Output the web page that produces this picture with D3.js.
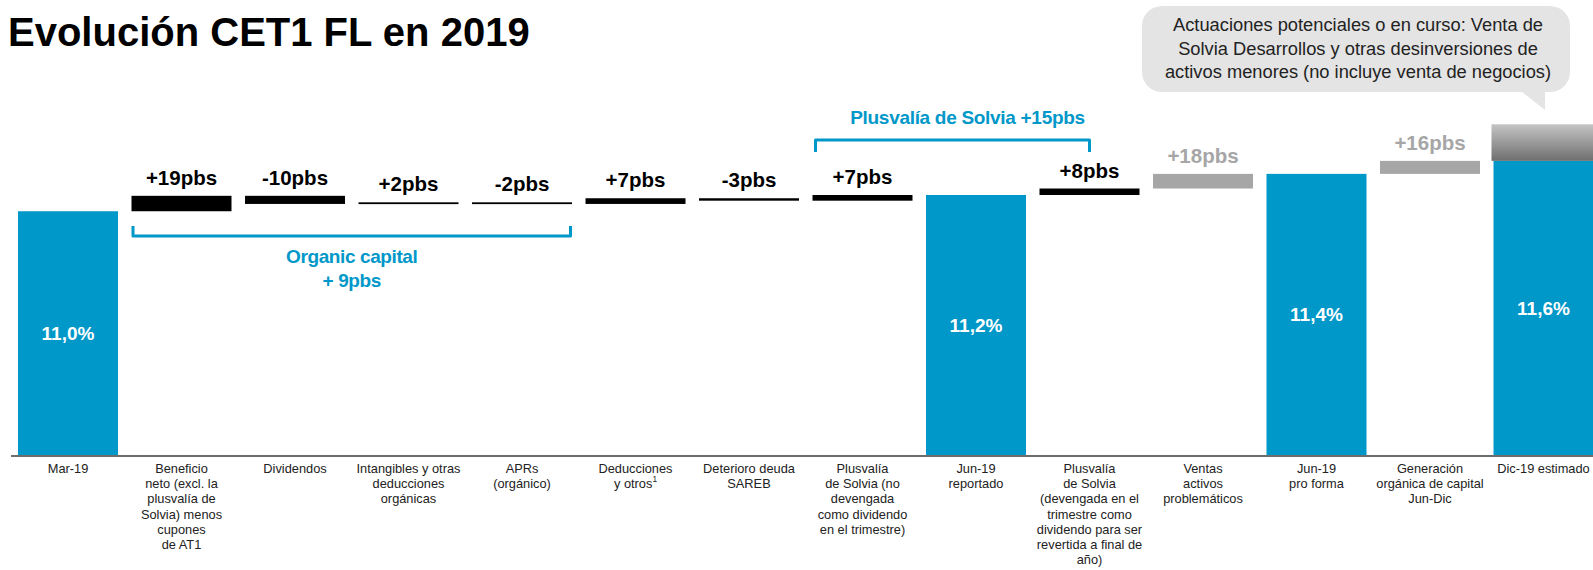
<!DOCTYPE html>
<html>
<head>
<meta charset="utf-8">
<script src="https://cdn.jsdelivr.net/npm/d3@7"></script>
<style>
  html, body { margin: 0; padding: 0; background: #fff; }
  svg { display: block; }
</style>
</head>
<body>
<svg id="chart" width="1593" height="570"></svg>
<script>
// ---------------- DATA ----------------
const titleText = "Evolución CET1 FL en 2019";

const categoryLines = [
  ["Mar-19"],
  ["Beneficio", "neto (excl. la", "plusvalía de", "Solvia) menos", "cupones", "de AT1"],
  ["Dividendos"],
  ["Intangibles y otras", "deducciones", "orgánicas"],
  ["APRs", "(orgánico)"],
  ["Deducciones", "y otros|1"],
  ["Deterioro deuda", "SAREB"],
  ["Plusvalía", "de Solvia (no", "devengada", "como dividendo", "en el trimestre)"],
  ["Jun-19", "reportado"],
  ["Plusvalía", "de Solvia", "(devengada en el", "trimestre como", "dividendo para ser", "revertida a final de", "año)"],
  ["Ventas", "activos", "problemáticos"],
  ["Jun-19", "pro forma"],
  ["Generación", "orgánica de capital", "Jun-Dic"],
  ["Dic-19 estimado"]
];

const barKind = ["total", "organic", "organic", "organic", "organic", "organic", "organic", "organic",
                 "total", "organic", "potential", "total", "potential", "total"];

const startValue = 11.0;                    // CET1 FL % at Mar-19
const deltaPbs = [null, 19, -10, 2, -2, 7, -3, 7, null, 8, 18, null, 16, null];
const deltaLabels = [null, "+19pbs", "-10pbs", "+2pbs", "-2pbs", "+7pbs", "-3pbs", "+7pbs",
                     null, "+8pbs", "+18pbs", null, "+16pbs", null];
const totalLabels = ["11,0%", null, null, null, null, null, null, null,
                     "11,2%", null, null, "11,4%", null, "11,6%"];
const pendingPbs = [null, null, null, null, null, null, null, null, null, null, null, null, null, 45];

const organicBracket = { from: 1, to: 4, lines: ["Organic capital", "+ 9pbs"] };
const solviaBracket = { from: 7, to: 9, text: "Plusvalía de Solvia +15pbs" };

const calloutLines = [
  "Actuaciones potenciales o en curso: Venta de",
  "Solvia Desarrollos y otras desinversiones de",
  "activos menores (no incluye venta de negocios)"
];

// ---------------- SETUP ----------------
const svg = d3.select("#chart");
const W = 1593, H = 570;
const baseY = 455;

const BLUE = "#0097c9";
const GRAY = "#a6a6a6";

// font detection for narrow family
function fontAvailable(name) {
  const c = document.createElement("canvas").getContext("2d");
  const s = "Dic-19 estimado Intangibles";
  c.font = "16px monospace"; const a = c.measureText(s).width;
  c.font = `16px "${name}", monospace`; const b = c.measureText(s).width;
  return Math.abs(a - b) > 0.5;
}
const narrowOK = fontAvailable("Liberation Sans Narrow");
const catFont = narrowOK ? '"Liberation Sans Narrow", "Arial Narrow", sans-serif' : '"Liberation Sans", Arial, sans-serif';
const catSize = narrowOK ? 15.5 : 12.8;

const x = d3.scaleBand()
  .domain(d3.range(categoryLines.length))
  .range([11.25, 1600.25])
  .paddingInner(0.119)
  .paddingOuter(0.0595);

const y = d3.scaleLinear().domain([8, 13.6]).range([baseY, 0]);

// compute waterfall
let level = startValue;
const bars = barKind.map((k, i) => {
  if (k === "total") {
    return { i, kind: k, y0: y.domain()[0], y1: level, label: totalLabels[i] };
  } else {
    const from = level;
    level = level + deltaPbs[i] / 100;
    return { i, kind: k, y0: Math.min(from, level), y1: Math.max(from, level), label: deltaLabels[i] };
  }
});

// gradient
const defs = svg.append("defs");
const grad = defs.append("linearGradient").attr("id", "grayGrad")
  .attr("x1", 0).attr("y1", 0).attr("x2", 0).attr("y2", 1);
grad.append("stop").attr("offset", "0%").attr("stop-color", "#c4c4c4");
grad.append("stop").attr("offset", "100%").attr("stop-color", "#6f6f6f");

// title
svg.append("text")
  .attr("x", 8).attr("y", 46)
  .attr("font-family", '"Liberation Sans", Arial, sans-serif')
  .attr("font-weight", "bold").attr("font-size", 40)
  .attr("fill", "#000")
  .text(titleText);

// callout
const cb = { x: 1142, y: 6, w: 428, h: 86, r: 20 };
const calloutPath = d3.path();
calloutPath.moveTo(cb.x + cb.r, cb.y);
calloutPath.lineTo(cb.x + cb.w - cb.r, cb.y);
calloutPath.arcTo(cb.x + cb.w, cb.y, cb.x + cb.w, cb.y + cb.r, cb.r);
calloutPath.lineTo(cb.x + cb.w, cb.y + cb.h - cb.r);
calloutPath.arcTo(cb.x + cb.w, cb.y + cb.h, cb.x + cb.w - cb.r, cb.y + cb.h, cb.r);
calloutPath.lineTo(1545, cb.y + cb.h);
calloutPath.lineTo(1545, 110);
calloutPath.lineTo(1522, cb.y + cb.h);
calloutPath.lineTo(cb.x + cb.r, cb.y + cb.h);
calloutPath.arcTo(cb.x, cb.y + cb.h, cb.x, cb.y + cb.h - cb.r, cb.r);
calloutPath.lineTo(cb.x, cb.y + cb.r);
calloutPath.arcTo(cb.x, cb.y, cb.x + cb.r, cb.y, cb.r);
calloutPath.closePath();
svg.append("path").attr("d", calloutPath.toString()).attr("fill", "#e4e4e4");

svg.append("g").selectAll("text").data(calloutLines).join("text")
  .attr("x", 1358).attr("y", (d, i) => 31 + i * 23.5)
  .attr("text-anchor", "middle")
  .attr("font-family", '"Liberation Sans", Arial, sans-serif')
  .attr("font-size", 18.3).attr("fill", "#222")
  .text(d => d);

// bars
const gBars = svg.append("g");
bars.forEach(b => {
  const x0 = x(b.i), bw = x.bandwidth();
  if (b.kind === "total") {
    gBars.append("rect")
      .attr("x", x0).attr("width", bw)
      .attr("y", y(b.y1)).attr("height", y(b.y0) - y(b.y1))
      .attr("fill", BLUE);
    if (pendingPbs[b.i]) {
      const top = b.y1 + pendingPbs[b.i] / 100;
      gBars.append("rect")
        .attr("x", x0 - 2).attr("width", bw + 2)
        .attr("y", y(top)).attr("height", y(b.y1) - y(top))
        .attr("fill", "url(#grayGrad)");
    }
    gBars.append("text")
      .attr("x", x0 + bw / 2).attr("y", (y(b.y1) + y(b.y0)) / 2 + 7)
      .attr("text-anchor", "middle")
      .attr("font-family", '"Liberation Sans", Arial, sans-serif')
      .attr("font-weight", "bold").attr("font-size", 19)
      .attr("fill", "#fff")
      .text(b.label);
  } else {
    const col = b.kind === "potential" ? GRAY : "#000";
    gBars.append("rect")
      .attr("x", x0).attr("width", bw)
      .attr("y", y(b.y1)).attr("height", Math.max(1.8, y(b.y0) - y(b.y1)))
      .attr("fill", col);
    gBars.append("text")
      .attr("x", x0 + bw / 2).attr("y", y(b.y1) - 11)
      .attr("text-anchor", "middle")
      .attr("font-family", '"Liberation Sans", Arial, sans-serif')
      .attr("font-weight", "bold").attr("font-size", 20.5)
      .attr("fill", b.kind === "potential" ? GRAY : "#000")
      .text(b.label);
  }
});

// baseline axis
svg.append("line")
  .attr("x1", 11).attr("x2", W).attr("y1", baseY + 1).attr("y2", baseY + 1)
  .attr("stroke", "#3c3c3c").attr("stroke-width", 1.6);

// category labels
const gCat = svg.append("g")
  .attr("font-family", catFont).attr("font-size", catSize).attr("fill", "#222");
categoryLines.forEach((lines, i) => {
  const t = gCat.append("text")
    .attr("x", x(i) + x.bandwidth() / 2).attr("y", 473)
    .attr("text-anchor", "middle");
  lines.forEach((ln, j) => {
    const parts = ln.split("|");
    t.append("tspan").attr("x", x(i) + x.bandwidth() / 2)
      .attr("dy", j === 0 ? 0 : 15.2).text(parts[0]);
    if (parts[1]) {
      t.append("tspan").attr("font-size", catSize * 0.65).attr("dy", -6).text(parts[1]);
    }
  });
});

// organic bracket
const ob1 = x(organicBracket.from), ob2 = x(organicBracket.to) + x.bandwidth();
svg.append("path")
  .attr("d", `M${ob1 + 1.5},226 L${ob1 + 1.5},236 L${ob2 - 1.5},236 L${ob2 - 1.5},226`)
  .attr("fill", "none").attr("stroke", BLUE).attr("stroke-width", 3)
  .attr("stroke-linejoin", "round");
svg.append("g").selectAll("text").data(organicBracket.lines).join("text")
  .attr("x", (ob1 + ob2) / 2).attr("y", (d, i) => 263 + i * 24)
  .attr("text-anchor", "middle")
  .attr("font-family", '"Liberation Sans", Arial, sans-serif')
  .attr("font-weight", "bold").attr("font-size", 19).attr("letter-spacing", -0.4)
  .attr("fill", BLUE)
  .text(d => d);

// solvia bracket
const sb1 = x(solviaBracket.from) + 3, sb2 = x(solviaBracket.to) + x.bandwidth() / 2;
svg.append("path")
  .attr("d", `M${sb1},152 L${sb1},140 L${sb2},140 L${sb2},152`)
  .attr("fill", "none").attr("stroke", BLUE).attr("stroke-width", 3)
  .attr("stroke-linejoin", "round");
svg.append("text")
  .attr("x", (sb1 + sb2) / 2 + 15).attr("y", 124)
  .attr("text-anchor", "middle")
  .attr("font-family", '"Liberation Sans", Arial, sans-serif')
  .attr("font-weight", "bold").attr("font-size", 19).attr("letter-spacing", -0.3)
  .attr("fill", BLUE)
  .text(solviaBracket.text);
</script>
</body>
</html>
